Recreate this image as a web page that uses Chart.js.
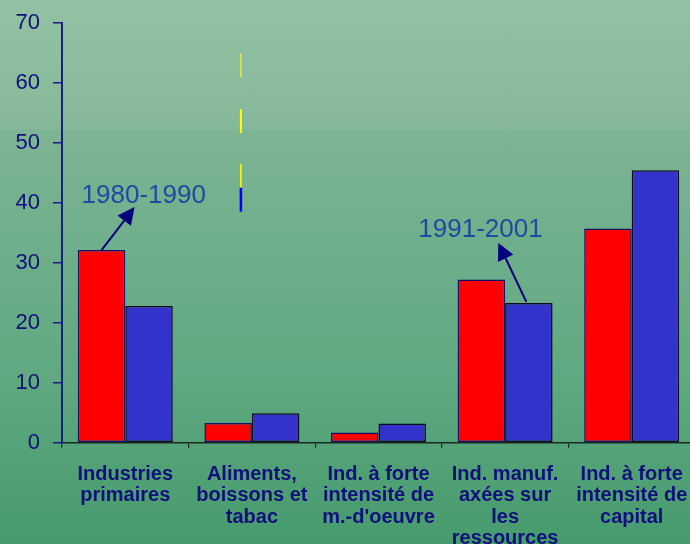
<!DOCTYPE html>
<html>
<head>
<meta charset="utf-8">
<script src="https://cdn.jsdelivr.net/npm/chart.js@4/dist/chart.umd.min.js"></script>
<style>
    html, body {
        margin: 0;
        padding: 0;
        width: 690px;
        height: 544px;
        overflow: hidden;
        background: linear-gradient(to bottom, #92c2a3 0px, #85b899 129px, #7db494 131px, #5fa880 380px, #469b6d 544px);
    }
    canvas {
        display: block;
    }
</style>
</head>
<body>
<canvas id="chart" width="700" height="544"></canvas>
<script>
const categories = [
    ["Industries", "primaires"],
    ["Aliments,", "boissons et", "tabac"],
    ["Ind. à forte", "intensité de", "m.-d'oeuvre"],
    ["Ind. manuf.", "axées sur", "les", "ressources"],
    ["Ind. à forte", "intensité de", "capital"],
];
const period1 = [32.1, 3.3, 1.7, 27.2, 35.7];
const period2 = [22.8, 4.9, 3.2, 23.3, 45.4];
const periodNames = ["1980-1990", "1991-2001"];
const yTicks = [0, 10, 20, 30, 40, 50, 60, 70];

const NAVY = "#10107c";

// callouts: text + arrow anchored on a bar top (dataset, index); offsets are styling
const callouts = [
    { text: periodNames[0], dataset: 0, index: 0, tail: [0, 0], tip: [33, -43], label: [-20, -47] },
    { text: periodNames[1], dataset: 1, index: 3, tail: [-2.5, -1], tip: [-30.5, -60], label: [-110.5, -66] },
];

// leftover legend stubs seen in the source picture (value ranges on the y scale)
const stubs = [
    { from: 64.9, to: 60.9, color: "#ffff40", width: 1 },
    { from: 55.6, to: 51.6, color: "#ffff00", width: 2 },
    { from: 46.5, to: 42.5, color: "#ffff00", width: 1.5 },
    { from: 42.5, to: 38.5, color: "#0000ff", width: 2.5 },
];

const calloutPlugin = {
    id: "callouts",
    afterDatasetsDraw(chart) {
        const ctx = chart.ctx;
        const x = chart.scales.x;
        const y = chart.scales.y;

        ctx.save();
        const sx = x.getPixelForValue(1) - 11;
        stubs.forEach((s) => {
            ctx.strokeStyle = s.color;
            ctx.lineWidth = s.width;
            ctx.beginPath();
            ctx.moveTo(sx, y.getPixelForValue(s.from));
            ctx.lineTo(sx, y.getPixelForValue(s.to));
            ctx.stroke();
        });

        callouts.forEach((c) => {
            const bar = chart.getDatasetMeta(c.dataset).data[c.index];
            const x0 = bar.x + c.tail[0];
            const y0 = bar.y + c.tail[1];
            const x1 = bar.x + c.tip[0];
            const y1 = bar.y + c.tip[1];
            const ang = Math.atan2(y1 - y0, x1 - x0);
            const len = 17;
            const half = 8.5;
            const bx = x1 - len * Math.cos(ang);
            const by = y1 - len * Math.sin(ang);

            ctx.strokeStyle = "#000080";
            ctx.fillStyle = "#000080";
            ctx.lineWidth = 2;
            ctx.beginPath();
            ctx.moveTo(x0, y0);
            ctx.lineTo(bx, by);
            ctx.stroke();

            ctx.beginPath();
            ctx.moveTo(x1, y1);
            ctx.lineTo(bx + half * Math.sin(ang), by - half * Math.cos(ang));
            ctx.lineTo(bx - half * Math.sin(ang), by + half * Math.cos(ang));
            ctx.closePath();
            ctx.fill();

            ctx.font = "26px 'Liberation Sans', Arial, sans-serif";
            ctx.fillStyle = "#1e4aa2";
            ctx.textAlign = "left";
            ctx.textBaseline = "alphabetic";
            ctx.fillText(c.text, bar.x + c.label[0], bar.y + c.label[1]);
        });
        ctx.restore();
    },
};

new Chart(document.getElementById("chart"), {
    type: "bar",
    data: {
        labels: categories,
        datasets: [
            {
                label: periodNames[0],
                data: period1,
                backgroundColor: "#ff0000",
                borderColor: "#10106a",
                borderWidth: 1.5,
                borderSkipped: false,
            },
            {
                label: periodNames[1],
                data: period2,
                backgroundColor: "#3333cc",
                borderColor: "#0a0a1a",
                borderWidth: 1.5,
                borderSkipped: false,
            },
        ],
    },
    options: {
        responsive: false,
        animation: false,
        devicePixelRatio: 1,
        layout: {
            padding: { top: 22.7, right: 5, left: 0, bottom: 0 },
        },
        categoryPercentage: 0.75,
        barPercentage: 1.0,
        plugins: {
            legend: { display: false },
            tooltip: { enabled: false },
        },
        scales: {
            x: {
                grid: {
                    display: true,
                    drawOnChartArea: false,
                    drawTicks: true,
                    tickLength: 5,
                    color: "#1a2a22",
                    lineWidth: 1.2,
                },
                border: { color: "#1a2a22", width: 1.5 },
                ticks: {
                    autoSkip: false,
                    maxRotation: 0,
                    minRotation: 0,
                    padding: 16,
                    color: NAVY,
                    font: { family: "'Liberation Sans', Arial, sans-serif", size: 20, weight: "bold", lineHeight: "21.5px" },
                },
                afterFit(scale) {
                    scale.height = 101.3;
                    scale.paddingLeft = 0;
                    scale.paddingRight = 0;
                },
            },
            y: {
                min: 0,
                max: 70,
                afterBuildTicks(scale) {
                    scale.ticks = yTicks.map((v) => ({ value: v }));
                },
                grid: {
                    display: true,
                    drawOnChartArea: false,
                    drawTicks: true,
                    tickLength: 9,
                    color: "#1c1c8c",
                    lineWidth: 1.5,
                },
                border: { color: "#1c1c8c", width: 2 },
                ticks: {
                    padding: 13,
                    color: NAVY,
                    font: { family: "'Liberation Sans', Arial, sans-serif", size: 22 },
                },
                afterFit(scale) {
                    scale.width = 62;
                    scale.paddingTop = 0;
                    scale.paddingBottom = 0;
                },
            },
        },
    },
    plugins: [calloutPlugin],
});
</script>
</body>
</html>
